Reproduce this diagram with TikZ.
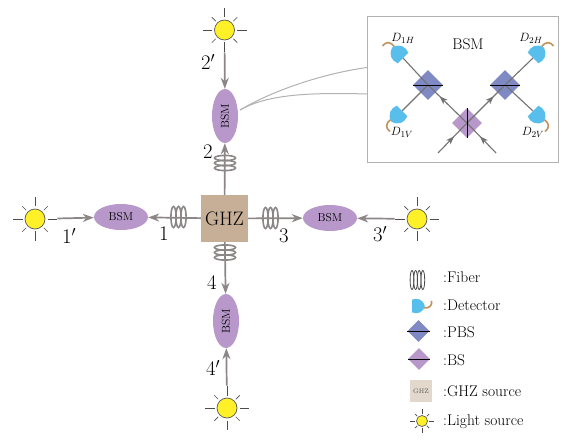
\documentclass[tikz,border=0pt]{standalone}
\usetikzlibrary{arrows.meta,shapes.geometric,decorations.markings}
\begin{document}
\begin{tikzpicture}[x=1pt,y=-1pt,>={Stealth[length=11pt,width=8pt,inset=3.5pt]}]
\definecolor{arrowgray}{RGB}{140,134,134}
\definecolor{bsmpurple}{RGB}{184,152,202}
\definecolor{pbsblue}{RGB}{127,137,196}
\definecolor{detblue}{RGB}{88,190,236}
\definecolor{tailbrown}{RGB}{192,146,92}
\definecolor{ghzbrown}{RGB}{198,175,150}
\definecolor{ghzlight}{RGB}{226,216,203}
\definecolor{sunyellow}{RGB}{255,240,40}
\tikzstyle{link}=[draw=arrowgray, line width=1.7pt, ->]
\tikzstyle{bsm}=[ellipse, fill=bsmpurple, inner sep=0pt, font=\fontsize{11.5}{11.5}\selectfont]
\tikzstyle{lamp}=[circle, draw=black!65, fill=sunyellow, line width=0.7pt, inner sep=0pt, minimum size=20pt]
\tikzstyle{portlabel}=[font=\fontsize{20}{20}\selectfont]
\tikzstyle{pbs}=[diamond, fill=pbsblue, inner sep=0pt, minimum size=30pt]
\tikzstyle{bs}=[diamond, fill=bsmpurple, inner sep=0pt, minimum size=30pt]
\tikzstyle{beam}=[draw=black!55, line width=1.1pt]
\tikzstyle{legendtext}=[anchor=base west, inner sep=0pt, font=\fontsize{15.5}{15.5}\selectfont]
\tikzstyle{detlabel}=[font=\fontsize{12.5}{12.5}\selectfont]
\tikzset{
  midarrow/.style={postaction={decorate}, decoration={markings, mark=at position #1 with {\arrow{Stealth[length=8pt,width=6pt,inset=2pt]}}}},
  detector/.pic={
    \draw[tailbrown, line width=1.6pt] (14,2) .. controls (20,3) and (24,0) .. (23,-6);
    \fill[detblue] (0,-7.5) .. controls (6,-10) and (13,-8) .. (15,0) .. controls (13,8) and (6,10) .. (0,7.5) -- cycle;
  },
  rays/.pic={
    \foreach \a in {0,90,180,270}
      \draw[black!70, line width=0.7pt] (\a:#1*1.25) -- (\a:#1*2.2);
    \foreach \a in {45,135,225,315}
      \draw[black!70, line width=0.7pt] (\a:#1*1.25) -- (\a:#1*1.8);
  },
  wraps/.pic={
    \foreach \k in {0,1,2}
      \draw[arrowgray, line width=1.6pt] (\k*5,0) ellipse (2.6 and 10.5);
  }
}
\useasboundingbox (0,0) rectangle (580,443);
\fill[white] (0,0) rectangle (580,443);

% Main cross
\node[rectangle, fill=ghzbrown, minimum size=47pt, inner sep=0pt, font=\fontsize{19.5}{19.5}\selectfont] (ghz) at (224.5,218.5) {GHZ};
\node[bsm, minimum width=26pt, minimum height=54pt] (bsm2) at (225,116) {\rotatebox{90}{BSM}};
\node[bsm, minimum width=54pt, minimum height=26pt] (bsm1) at (121,217) {BSM};
\node[bsm, minimum width=54pt, minimum height=26pt] (bsm3) at (330,218) {BSM};
\node[bsm, minimum width=26pt, minimum height=54pt] (bsm4) at (226,321) {\rotatebox{90}{BSM}};
\foreach \name/\x/\y in {lamp2/224.5/30, lamp1/35/219, lamp3/417/219, lamp4/227/408}{
  \node[lamp] (\name) at (\x,\y) {};
  \pic at (\name) {rays=10};
}
\draw[link, shorten <=12pt] (lamp2) -- (bsm2);
\draw[link, shorten <=12pt] (lamp1) -- (bsm1);
\draw[link, shorten <=12pt] (lamp3) -- (bsm3);
\draw[link, shorten <=12pt] (lamp4) -- (bsm4);
\draw[link] (ghz) -- (bsm2);
\draw[link] (ghz) -- (bsm1);
\draw[link] (ghz) -- (bsm3);
\draw[link] (ghz) -- (bsm4);
\pic[rotate=90] at (225,168) {wraps};
\pic at (173.5,217) {wraps};
\pic at (265.5,218) {wraps};
\pic[rotate=90] at (225,257.5) {wraps};
\node[portlabel] (p2p) at (208,62) {$2'$};
\node[portlabel] (p2) at (208,152) {$2$};
\node[portlabel] (p1p) at (69,236) {$1'$};
\node[portlabel] (p1) at (164,234) {$1$};
\node[portlabel] (p3) at (284,236) {$3$};
\node[portlabel] (p3p) at (380,234) {$3'$};
\node[portlabel] (p4) at (212,283) {$4$};
\node[portlabel] (p4p) at (213,368) {$4'$};

% Inset
\node[rectangle, draw=black!30, line width=1pt, fill=white, minimum width=191pt, minimum height=146pt, inner sep=0pt] (inset) at (462.5,90) {};
\coordinate (calloutS) at (240,110);
\coordinate (calloutA) at (367,67.5);
\coordinate (calloutB) at (367,94);
\draw[black!30, line width=1pt] (calloutS) .. controls (270,92) and (320,74) .. (calloutA);
\draw[black!30, line width=1pt] (calloutS) .. controls (265,96) and (300,92) .. (calloutB);
\node[font=\fontsize{15.5}{15.5}\selectfont] (bsmtitle) at (468,44) {BSM};
\node[pbs] (pbsL) at (428,85) {};
\node[pbs] (pbsR) at (505,85) {};
\node[bs] (bsc) at (467,123) {};
\coordinate (inL) at (438,153);
\coordinate (inR) at (496,153);
\coordinate (d1h) at (403,58);
\coordinate (d1v) at (402,111);
\coordinate (d2h) at (533,58);
\coordinate (d2v) at (533,111);
\draw[beam, midarrow=0.55] (inL) -- (bsc.center);
\draw[beam, midarrow=0.55] (inR) -- (bsc.center);
\draw[beam, midarrow=0.7] (bsc.center) -- (pbsL.center);
\draw[beam, midarrow=0.7] (bsc.center) -- (pbsR.center);
\draw[beam] (pbsL.center) -- (d1h);
\draw[beam] (pbsL.center) -- (d1v);
\draw[beam] (pbsR.center) -- (d2h);
\draw[beam] (pbsR.center) -- (d2v);
\draw[black, line width=0.6pt] (pbsL.west) -- (pbsL.east);
\draw[black, line width=0.6pt] (pbsR.west) -- (pbsR.east);
\draw[black, line width=0.6pt] (bsc.north) -- (bsc.south);
\pic[rotate=135] at (d1h) {detector};
\pic[rotate=-135] at (d1v) {detector};
\pic[rotate=45, yscale=-1] at (d2h) {detector};
\pic[rotate=-45, yscale=-1] at (d2v) {detector};
\node[detlabel] (l1h) at (403,38) {$D_{1H}$};
\node[detlabel] (l2h) at (531,38) {$D_{2H}$};
\node[detlabel] (l1v) at (402,132) {$D_{1V}$};
\node[detlabel] (l2v) at (533,132) {$D_{2V}$};

% Legend
\foreach \k in {0,1,2,3}
  \draw[black!70, line width=0.8pt] (412+\k*3.6,280) ellipse (1.9 and 9.5);
\pic[scale=0.85] at (412,306) {detector};
\node[pbs, minimum size=22pt] (legpbs) at (418.5,331) {};
\draw[black, line width=0.6pt] (legpbs.west) -- (legpbs.east);
\node[bs, minimum size=22pt] (legbs) at (419,359) {};
\draw[black, line width=0.6pt] (legbs.west) -- (legbs.east);
\node[rectangle, fill=ghzlight, minimum size=22pt, inner sep=0pt, text=black!65, font=\fontsize{6.5}{6.5}\selectfont] (legghz) at (421,391) {GHZ};
\node[lamp, minimum size=11pt] (leglamp) at (422,421) {};
\pic at (leglamp) {rays=5.5};
\node[legendtext] (tfiber) at (443,283) {:Fiber};
\node[legendtext] (tdet) at (443,310) {:Detector};
\node[legendtext] (tpbs) at (443,337) {:PBS};
\node[legendtext] (tbs) at (443,365) {:BS};
\node[legendtext] (tghz) at (443,396) {:GHZ source};
\node[legendtext] (tlight) at (443,425) {:Light source};
\end{tikzpicture}
\end{document}
